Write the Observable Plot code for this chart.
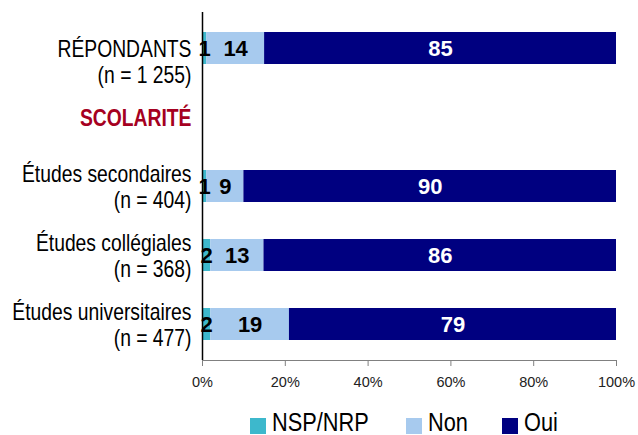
<!DOCTYPE html>
<html><head><meta charset="utf-8">
<script src="https://cdn.jsdelivr.net/npm/d3@7"></script>
<script src="https://cdn.jsdelivr.net/npm/@observablehq/plot@0.6"></script>
<style>
body{margin:0;background:#fff;font-family:"Liberation Sans",Arial,sans-serif;}
#chart svg{display:block;}
#legend{position:relative;height:43px;}
#legend .sw{position:absolute;top:26px;width:16px;height:16px;}
#legend .lab{position:absolute;top:18px;font-size:25px;line-height:25px;color:#000;transform:scaleX(0.87);transform-origin:left center;white-space:nowrap;}
</style></head><body><div id="chart"></div><div id="legend"></div>
<script>
const rows = ["RÉPONDANTS\n(n = 1 255)", "SCOLARITÉ", "Études secondaires\n(n = 404)", "Études collégiales\n(n = 368)", "Études universitaires\n(n = 477)"];
const responses = ["NSP/NRP", "Non", "Oui"];
const nspValues = [1, null, 1, 2, 2];
const nonValues = [14, null, 9, 13, 19];
const ouiValues = [85, null, 90, 86, 79];
const colors = ["#3DB8CC", "#A7CAEE", "#000080"];
const tickValues = [0, 0.2, 0.4, 0.6, 0.8, 1];
const tickLabels = ["0%", "20%", "40%", "60%", "80%", "100%"];
const sectionRow = "SCOLARITÉ";

const series = [nspValues, nonValues, ouiValues];
const data = [];
rows.forEach((r, i) => {
  responses.forEach((resp, j) => {
    const v = series[j][i];
    if (v != null) data.push({row: r, resp, value: v});
  });
});

const stackOpts = {x: "value", y: "row", z: "resp", offset: "normalize", order: null};
const labelRows = rows.filter(r => r !== sectionRow);
const labelFont = {textAnchor: "end", dx: -11, lineHeight: 1.13, fontSize: 23, fill: "#000"};

const chart = Plot.plot({
  width: 638,
  height: 392,
  marginTop: 12,
  marginBottom: 32,
  marginLeft: 202,
  marginRight: 22,
  x: {domain: [0, 1], ticks: tickValues},
  y: {domain: rows, type: "band", paddingInner: 0.54, paddingOuter: 0.27, axis: null},
  color: {domain: responses, range: colors},
  marks: [
    Plot.barX(data, Plot.stackX({...stackOpts, fill: "resp"})),
    Plot.text(data, Plot.filter(d => d.resp !== "Oui", Plot.stackX({...stackOpts, text: "value", fill: "#000", fontWeight: "bold", fontSize: 22}))),
    Plot.text(data, Plot.filter(d => d.resp === "Oui", Plot.stackX({...stackOpts, text: "value", fill: "#fff", fontWeight: "bold", fontSize: 22}))),
    Plot.text([labelRows[0]], {x: 0, y: d => d, text: d => d, dy: 13, ...labelFont}),
    Plot.text(labelRows.slice(1), {x: 0, y: d => d, text: d => d, ...labelFont}),
    Plot.text([sectionRow], {x: 0, y: d => d, text: d => d, ...labelFont, fontWeight: "bold", fill: "#A50021"}),
    Plot.frame({anchor: "bottom", stroke: "#808080"}),
    Plot.axisX({ticks: tickValues, tickFormat: (d, i) => tickLabels[i], tickSize: 6, tickPadding: 10, stroke: "#808080", fill: "#222", fontSize: 14.5, label: null}),
    Plot.ruleX([0], {stroke: "#000", strokeWidth: 1.5})
  ]
});
chart.style.fontFamily = "'Liberation Sans',Arial,sans-serif";
document.getElementById("chart").append(chart);

// condense the row labels (the source uses a narrow typeface)
const labelSet = new Set(rows.map(r => r.replace(/\n/g, "")));
chart.querySelectorAll("text").forEach(t => {
  if (labelSet.has(t.textContent.replace(/\n/g, ""))) {
    const tr = t.getAttribute("transform");
    if (tr) t.setAttribute("transform", tr + " scale(0.84,1)");
    else {
      const x = +(t.getAttribute("x") || 0);
      t.setAttribute("transform", `translate(${x},0) scale(0.84,1) translate(${-x},0)`);
    }
  }
});

const legend = document.getElementById("legend");
const legendX = [250, 406, 502];
responses.forEach((r, i) => {
  const sw = document.createElement("div");
  sw.className = "sw";
  sw.style.left = legendX[i] + "px";
  sw.style.background = colors[i];
  const lab = document.createElement("div");
  lab.className = "lab";
  lab.style.left = (legendX[i] + 22) + "px";
  lab.textContent = r;
  legend.append(sw, lab);
});
</script>
</body></html>
